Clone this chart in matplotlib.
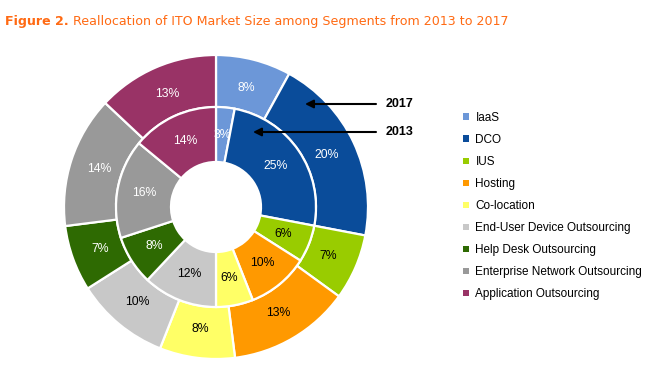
import numpy as np
import matplotlib
matplotlib.use("Agg")
from matplotlib import pyplot as plt

# segments and shares (percent)
segments = ["IaaS", "DCO", "IUS", "Hosting", "Co-location",
            "End-User Device Outsourcing", "Help Desk Outsourcing",
            "Enterprise Network Outsourcing", "Application Outsourcing"]
share_2017 = [8, 20, 7, 13, 8, 10, 7, 14, 13]
share_2013 = [3, 25, 6, 10, 6, 12, 8, 16, 14]
colors = ["#6c97d8", "#0a4c9a", "#99cc00", "#ff9900", "#ffff66",
          "#c8c8c8", "#2e6a02", "#999999", "#993366"]
label_colors = ["white", "white", "black", "black", "black",
                "black", "white", "white", "white"]

W, H = 655, 376
fig = plt.figure(figsize=(W / 100, H / 100), dpi=100)
plt.rcParams['font.family'] = ['Liberation Sans', 'DejaVu Sans']

cx, cy, half = 216, H - 207, 160
ax = fig.add_axes([(cx - half) / W, (cy - half) / H, 2 * half / W, 2 * half / H])

r_out, r_mid, r_hole = 152 / half, 100 / half, 45 / half
wprops = dict(edgecolor="white", linewidth=1.6)
outer, _ = ax.pie(share_2017, radius=r_out, colors=colors, startangle=90,
                  counterclock=False, wedgeprops=dict(width=r_out - r_mid, **wprops))
inner, _ = ax.pie(share_2013, radius=r_mid, colors=colors, startangle=90,
                  counterclock=False, wedgeprops=dict(width=r_mid - r_hole, **wprops))
ax.set_xlim(-1, 1)
ax.set_ylim(-1, 1)
ax.axis("off")

def put_labels(wedges, vals, r):
    for w, v, c in zip(wedges, vals, label_colors):
        a = np.deg2rad((w.theta1 + w.theta2) / 2)
        ax.text(r * np.cos(a), r * np.sin(a), "%d%%" % v, color=c,
                ha="center", va="center", fontsize=8.8)

put_labels(outer, share_2017, (r_out + r_mid) / 2 - 0.02)
put_labels(inner, share_2013, (r_mid + r_hole) / 2)

# title: bold prefix, then the rest right after it
t1 = fig.text(5 / W, 1 - 21 / H, "Figure 2.", color="#ff6a13", fontsize=9.1,
              fontweight="bold", family="DejaVu Sans", va="center")
fig.canvas.draw()
x_end = t1.get_window_extent().x1
fig.text((x_end + 4) / W, 1 - 21 / H,
         "Reallocation of ITO Market Size among Segments from 2013 to 2017",
         color="#ff6a13", fontsize=9.1, family="DejaVu Sans", va="center")

# year pointers
for yr, ytop, xhead in [("2017", 104, 305), ("2013", 132, 253)]:
    ax.annotate("", xy=(xhead, H - ytop), xycoords="figure pixels",
                xytext=(376, H - ytop), textcoords="figure pixels",
                arrowprops=dict(arrowstyle="-|>", color="black", lw=1.5,
                                mutation_scale=12, shrinkA=0, shrinkB=0))
    fig.text(386 / W, 1 - ytop / H, yr, fontsize=9, fontweight="bold",
             va="center", ha="left")

leg = fig.legend(outer, segments, loc="upper left",
                 bbox_to_anchor=(463 / W, 1 - 112 / H), frameon=False,
                 fontsize=8.5, handlelength=0.5, handleheight=0.5,
                 handletextpad=0.55, labelspacing=0.85, borderpad=0,
                 borderaxespad=0)
for h in leg.legend_handles:
    h.set_edgecolor("none")

fig.savefig("out.png", dpi=100)
